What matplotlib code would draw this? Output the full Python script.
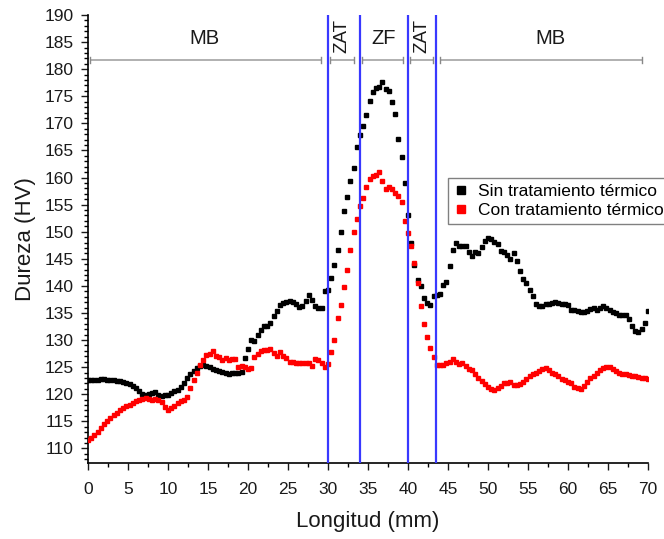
import numpy as np
import matplotlib
matplotlib.use("Agg")
import matplotlib.pyplot as plt
from matplotlib.ticker import MultipleLocator

plt.rcParams['font.family'] = ['Liberation Sans', 'DejaVu Sans']

step_mm = 0.4  # measurement spacing

sin_tt = [
    122.6, 122.6, 122.7, 122.7, 122.8, 122.8, 122.7, 122.7, 122.6, 122.5,
    122.4, 122.2, 122.0, 121.8, 121.5, 121.1, 120.6, 120.1, 119.8, 120.0,
    120.3, 120.4, 119.8, 119.6, 119.8, 119.9, 120.2, 120.5, 120.7, 121.4,
    122.1, 123.0, 123.8, 124.3, 124.8, 125.2, 125.3, 125.2, 125.0, 124.7,
    124.5, 124.3, 124.1, 123.9, 123.8, 124.0, 124.0, 123.9, 124.1, 126.7,
    128.4, 130.0, 129.8, 131.0, 131.8, 132.5, 132.6, 133.2, 134.5, 135.3,
    136.5, 136.9, 137.1, 137.2, 137.0, 136.6, 136.1, 136.3, 137.2, 138.3,
    137.4, 136.2, 135.9, 135.9, 139.0, 139.3, 141.5, 143.9, 146.6, 149.9,
    153.8, 156.4, 159.4, 161.8, 165.7, 167.9, 169.5, 171.5, 174.1, 175.7,
    176.5, 176.8, 177.6, 176.3, 176.0, 173.9, 171.7, 167.1, 163.7, 158.9,
    153.0, 147.9, 143.9, 141.0, 139.9, 137.7, 136.8, 136.4, 138.2, 138.3,
    138.5, 140.1, 140.7, 143.6, 146.6, 148.0, 147.4, 147.4, 147.4, 146.3,
    145.5, 146.3, 146.1, 147.2, 148.3, 148.9, 148.6, 148.1, 147.7, 146.5,
    146.3, 145.7, 145.0, 146.0, 144.5, 142.8, 141.3, 140.5, 139.3, 138.2,
    136.7, 136.3, 136.2, 136.6, 136.7, 136.8, 137.1, 136.8, 136.7, 136.6,
    136.5, 135.6, 135.5, 135.4, 135.1, 135.1, 135.4, 135.8, 135.9, 135.6,
    136.0, 136.2, 135.9, 135.6, 135.1, 134.9, 134.7, 134.6, 134.6, 133.8,
    132.6, 131.6, 131.5, 132.1, 133.2, 135.4,
]

con_tt = [
    111.5, 112.0, 112.5, 113.0, 113.8, 114.5, 115.0, 115.6, 116.1, 116.6,
    117.1, 117.4, 117.8, 118.0, 118.4, 118.7, 119.0, 119.1, 119.3, 119.1,
    119.0, 119.1, 119.0, 118.6, 117.7, 117.1, 117.5, 117.8, 118.3, 118.7,
    119.0, 119.4, 121.1, 122.7, 123.9, 125.4, 126.3, 127.2, 127.5, 128.0,
    127.0, 126.8, 126.4, 126.6, 126.3, 126.5, 126.5, 125.1, 125.2, 125.0,
    124.6, 124.8, 126.8, 127.5, 127.9, 128.1, 128.1, 128.3, 127.6, 127.1,
    127.7, 127.0, 126.7, 126.0, 125.9, 125.8, 125.8, 125.7, 125.7, 125.8,
    125.2, 126.5, 126.4, 125.8, 125.0, 125.6, 127.7, 130.0, 134.0, 136.5,
    139.8, 143.0, 146.6, 149.9, 152.3, 154.8, 156.2, 158.2, 159.7, 160.3,
    160.5, 161.1, 159.4, 157.8, 158.2, 157.8, 157.2, 156.6, 155.4, 152.0,
    149.7, 147.4, 144.2, 140.5, 136.3, 132.9, 130.5, 128.6, 126.8, 125.3,
    125.3, 125.3, 125.7, 126.0, 126.5, 125.9, 125.6, 125.7, 125.2, 124.7,
    124.4, 123.8, 123.0, 122.4, 121.8, 121.3, 120.9, 120.7, 121.1, 121.6,
    122.0, 122.0, 122.3, 121.7, 121.7, 121.9, 122.3, 122.8, 123.4, 123.8,
    123.9, 124.3, 124.6, 124.8, 124.5, 124.0, 123.8, 123.4, 122.8, 122.6,
    122.3, 122.0, 121.4, 121.1, 120.9, 121.5, 122.3, 123.0, 123.3, 123.9,
    124.5, 124.9, 125.1, 125.0, 124.6, 124.3, 124.0, 123.8, 123.7, 123.6,
    123.4, 123.3, 123.2, 123.0, 122.9, 122.8,
]

zone_bounds = [30, 34, 40, 43.5]
zone_names = ["MB", "ZAT", "ZF", "ZAT", "MB"]
zone_label_x = [14.6, 31.7, 36.9, 41.7, 57.8]
zone_rot = [0, 90, 0, 90, 0]
zone_bar_start = [0.25, 30.25, 34.3, 40.25, 44.0]
zone_bar_end = [29.1, 33.3, 39.4, 43.1, 69.3]

x_sin = np.arange(len(sin_tt)) * step_mm
x_con = np.arange(len(con_tt)) * step_mm

fig = plt.figure(figsize=(6.64, 5.39), dpi=100)
ax = fig.add_axes([88 / 664, 1 - 463 / 539, 560 / 664, 448 / 539])

ax.plot(x_sin, sin_tt, ls='none', marker='s', ms=3.1, color='black',
        mec='black', label='Sin tratamiento térmico', zorder=3)
ax.plot(x_con, con_tt, ls='none', marker='s', ms=3.1, color='#ff0000',
        mec='#ff0000', label='Con tratamiento térmico', zorder=3)

for b in zone_bounds:
    ax.axvline(b, color='#3838ff', lw=1.6, zorder=4)

bar_y = 181.7
for s, e in zip(zone_bar_start, zone_bar_end):
    ax.plot([s, e], [bar_y, bar_y], color='#aaaaaa', lw=1.3, zorder=2,
            solid_capstyle='butt')
    for xx in (s, e):
        ax.plot([xx, xx], [bar_y - 0.6, bar_y + 0.6], color='#888888', lw=1.0,
                zorder=2)

for name, xx, rot in zip(zone_names, zone_label_x, zone_rot):
    ax.text(xx, 185.6 if rot == 0 else 186.2, name, ha='center', va='center',
            rotation=rot, fontsize=14.5 if rot == 0 else 13.5, color='#1a1a1a')

ax.set_xlim(0, 70)
ax.set_ylim(107.3, 190)
ax.xaxis.set_major_locator(MultipleLocator(5))
ax.xaxis.set_minor_locator(MultipleLocator(2.5))
ax.yaxis.set_major_locator(MultipleLocator(5))
ax.yaxis.set_minor_locator(MultipleLocator(1))
ax.tick_params(which='major', direction='out', length=5, width=1,
               labelsize=12.5, colors='#1a1a1a')
ax.tick_params(which='minor', direction='out', length=3, width=1)
ax.tick_params(axis='x', which='major', pad=9)
ax.tick_params(axis='y', which='major', pad=5.5)
for sp in ['top', 'right']:
    ax.spines[sp].set_visible(False)
for sp in ['left', 'bottom']:
    ax.spines[sp].set_linewidth(1.2)

ax.set_xlabel('Longitud (mm)', fontsize=16, color='#1a1a1a', labelpad=10)
ax.set_ylabel('Dureza (HV)', fontsize=16, color='#1a1a1a', labelpad=6)

leg = ax.legend(loc='upper left', bbox_to_anchor=(448 / 664, 1 - 178 / 539),
                bbox_transform=fig.transFigure, borderaxespad=0,
                fontsize=12.5, markerscale=1.8, handlelength=0.8,
                handletextpad=0.6, labelspacing=0.2, borderpad=0.35,
                frameon=True, fancybox=False, framealpha=1)
leg.get_frame().set_edgecolor('#808080')
leg.get_frame().set_linewidth(1.0)

fig.savefig('out.png', dpi=100)
